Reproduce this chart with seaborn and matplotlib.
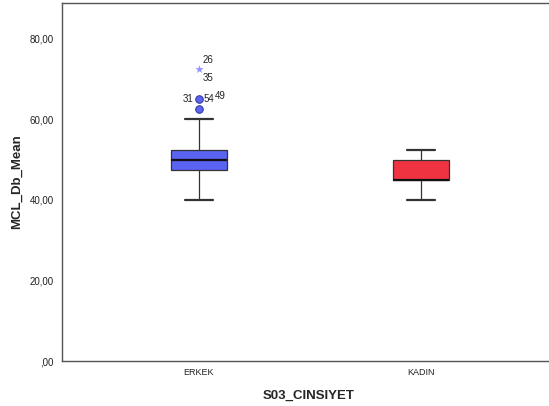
import matplotlib
matplotlib.use("Agg")
import matplotlib.pyplot as plt
import seaborn as sns

# Summary statistics per group
groups = ["ERKEK", "KADIN"]
whisker_low = [40.0, 40.0]
q1 = [47.5, 45.0]
median = [50.0, 45.0]
q3 = [52.5, 50.0]
whisker_high = [60.0, 52.5]

# Outliers (ERKEK only): mild outliers drawn as circles, extremes as stars
mild_values = [62.5, 65.0]
extreme_values = [72.5]
case_labels = [
    (65.0, "31", "left"),
    (65.0, "54", "right"),
    (65.0, "49", "far"),
    (72.5, "26", "above"),
    (72.5, "35", "below"),
]

box_colors = ["#5a63f2", "#ef3340"]
y_ticks = [0, 20, 40, 60, 80]
y_tick_labels = [",00", "20,00", "40,00", "60,00", "80,00"]

sns.set_theme(style="white")
plt.rcParams["font.family"] = ["Liberation Sans", "DejaVu Sans"]

fig = plt.figure(figsize=(5.49, 4.0605), dpi=100)
# axes runs a little past the right edge so that no right border shows
ax = fig.add_axes([62 / 549, 45 / 406, (556 - 62) / 549, 358 / 406])

stats = []
for i, g in enumerate(groups):
    stats.append({
        "label": g,
        "whislo": whisker_low[i],
        "q1": q1[i],
        "med": median[i],
        "q3": q3[i],
        "whishi": whisker_high[i],
        "fliers": [],
    })

bp = ax.bxp(
    stats,
    positions=[0, 1],
    widths=0.252,
    patch_artist=True,
    showfliers=False,
    boxprops=dict(linewidth=0.9, edgecolor="#333333"),
    medianprops=dict(color="#111111", linewidth=1.6),
    whiskerprops=dict(color="#333333", linewidth=0.9),
    capprops=dict(color="#333333", linewidth=1.6),
    capwidths=0.125,
)
for patch, c in zip(bp["boxes"], box_colors):
    patch.set_facecolor(c)

# Outlier markers for ERKEK
ax.scatter([0] * len(mild_values), mild_values, s=30, marker="o",
           facecolor="#5a63f2", edgecolor="#333399", linewidth=0.7, zorder=4)
ax.scatter([0] * len(extreme_values), extreme_values, s=40, marker="*",
           color="#8f92ff", linewidth=0, zorder=4)

offsets = {
    "left": (-0.075, 65.0),
    "right": (0.02, 65.0),
    "far": (0.07, 65.8),
    "above": (0.015, 74.8),
    "below": (0.015, 70.2),
}
for val, lab, pos in case_labels:
    dx, yy = offsets[pos]
    ax.text(0 + dx, yy, lab, fontsize=7, color="#222222", va="center", ha="left")

ax.set_xlim(-0.617, 1 + (556 - 421) / 222)
ax.set_ylim(0, 88.9)
ax.set_xticks([0, 1])
ax.set_xticklabels(groups, fontsize=6.5)
ax.set_yticks(y_ticks)
ax.set_yticklabels(y_tick_labels, fontsize=7)
ax.set_xlabel("S03_CINSIYET", fontsize=9.5, fontweight="bold", labelpad=9)
ax.set_ylabel("MCL_Db_Mean", fontsize=9.5, fontweight="bold", labelpad=5)

ax.tick_params(axis="both", which="both", length=4, width=0.8, color="#333333",
               direction="out", pad=2, colors="#222222")
ax.tick_params(axis="x", length=3)
for side in ["left", "top", "bottom"]:
    ax.spines[side].set_color("#555555")
    ax.spines[side].set_linewidth(1.0)
ax.spines["right"].set_visible(False)

fig.savefig("out.png", dpi=100)
